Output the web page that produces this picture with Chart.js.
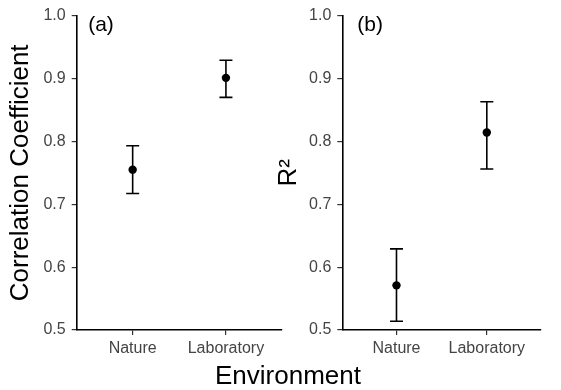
<!DOCTYPE html>
<html>
<head>
<meta charset="utf-8">
<script src="https://cdn.jsdelivr.net/npm/chart.js@4"></script>
<style>
  body { margin: 0; background: #fff; }
  #wrap { position: relative; width: 561px; height: 390px; overflow: hidden; }
  #c1 { position: absolute; left: 0; top: 0; }
  #c2 { position: absolute; left: 270px; top: 0; }
  #xtitle { position: absolute; left: 0; width: 576px; top: 360px; text-align: center;
            font-family: 'Liberation Sans', Arial, sans-serif; font-size: 26px; color: #000; }
</style>
</head>
<body>
<div id="wrap">
  <canvas id="c1" width="290" height="390"></canvas>
  <canvas id="c2" width="291" height="390"></canvas>
  <div id="xtitle">Environment</div>
</div>
<script>
// categorias e valores
const categorias = ['Nature', 'Laboratory'];
const posicoes = [1, 2];

const corrMedia = [0.755, 0.901];
const corrInf = [0.717, 0.870];
const corrSup = [0.793, 0.929];

const r2Media = [0.571, 0.814];
const r2Inf = [0.514, 0.756];
const r2Sup = [0.629, 0.863];

const yTicks = [0.5, 0.6, 0.7, 0.8, 0.9, 1.0];

const fonte = "'Liberation Sans', Arial, sans-serif";

// texto do painel (a)/(b)
const painelPlugin = {
    id: 'painel',
    afterDraw(chart, args, opts) {
        const ctx = chart.ctx;
        ctx.save();
        ctx.font = '21px ' + fonte;
        ctx.fillStyle = '#000';
        ctx.textBaseline = 'middle';
        ctx.textAlign = 'left';
        ctx.fillText(opts.texto, chart.chartArea.left + opts.dx, 25);
        ctx.restore();
    }
};

function plotarPainel(id, media, inf, sup, tituloY, painel, yLargura, padDireita, dx, tituloPad) {
    const datasets = [{
        data: posicoes.map((x, i) => ({x: x, y: media[i]})),
        showLine: false,
        pointRadius: 4.2,
        pointBackgroundColor: '#000',
        pointBorderColor: '#000',
        borderWidth: 0
    }];
    // barras de erro, uma por categoria
    posicoes.forEach((x, i) => {
        datasets.push({
            data: [{x: x, y: inf[i]}, {x: x, y: sup[i]}],
            showLine: true,
            borderColor: '#000',
            borderWidth: 1.6,
            pointStyle: 'line',
            pointRadius: 6.5,
            pointBorderColor: '#000',
            pointBorderWidth: 1.6
        });
    });

    const ctx = document.getElementById(id).getContext('2d');
    return new Chart(ctx, {
        type: 'scatter',
        data: { datasets: datasets },
        options: {
            responsive: false,
            animation: false,
            layout: { padding: { top: 15.5, right: padDireita, bottom: 0, left: 0 } },
            plugins: {
                legend: { display: false },
                tooltip: { enabled: false },
                painel: { texto: painel, dx: dx }
            },
            scales: {
                x: {
                    type: 'linear',
                    min: 0.4,
                    max: 2.6,
                    afterBuildTicks: s => { s.ticks = posicoes.map(v => ({value: v})); },
                    afterFit: s => { s.height = 60; },
                    ticks: {
                        callback: v => categorias[posicoes.indexOf(v)],
                        color: '#444',
                        font: { family: fonte, size: 16 },
                        padding: 4,
                        maxRotation: 0
                    },
                    grid: { drawOnChartArea: false, tickLength: 5, color: '#333', lineWidth: 1.2 },
                    border: { display: true, color: '#000', width: 1.6 }
                },
                y: {
                    min: 0.5,
                    max: 1.0,
                    afterBuildTicks: s => { s.ticks = yTicks.map(v => ({value: v})); },
                    afterFit: s => { s.width = yLargura; },
                    ticks: {
                        callback: v => v.toFixed(1),
                        color: '#444',
                        font: { family: fonte, size: 16 },
                        padding: 6
                    },
                    grid: { drawOnChartArea: false, tickLength: 5, color: '#333', lineWidth: 1.2 },
                    border: { display: true, color: '#000', width: 1.6 },
                    title: {
                        display: true,
                        text: tituloY,
                        color: '#000',
                        font: { family: fonte, size: 26 },
                        padding: { top: tituloPad, bottom: 0 }
                    }
                }
            }
        },
        plugins: [painelPlugin]
    });
}

plotarPainel('c1', corrMedia, corrInf, corrSup, 'Correlation Coefficient', '(a)', 76.7, 8, 11.5, 5);
plotarPainel('c2', r2Media, r2Inf, r2Sup, 'R\u00B2', '(b)', 72.3, 20, 15, 3);
</script>
</body>
</html>
